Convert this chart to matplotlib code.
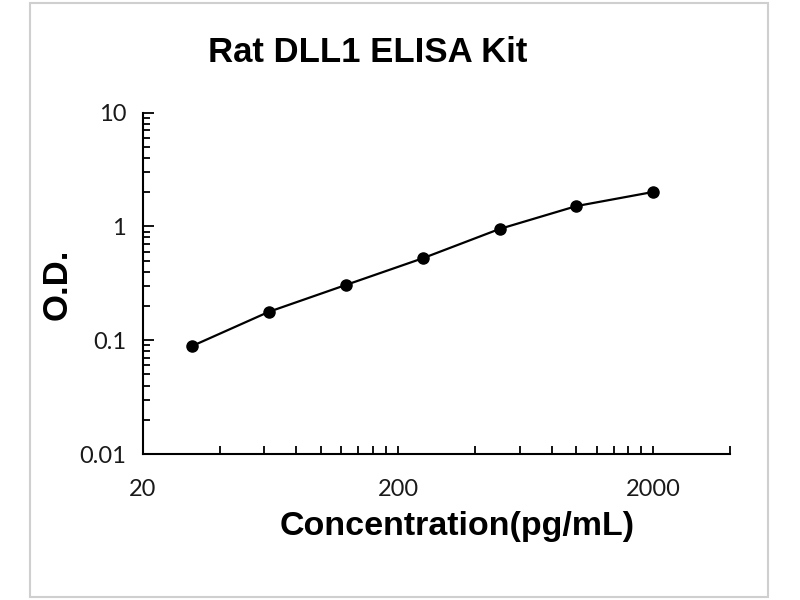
import matplotlib
matplotlib.use("Agg")
import matplotlib.pyplot as plt
from matplotlib.ticker import FixedLocator, NullFormatter, FixedFormatter
from matplotlib.patches import Rectangle

# standard curve
conc = [31.25, 62.5, 125, 250, 500, 1000, 2000]
od = [0.089, 0.178, 0.306, 0.525, 0.95, 1.51, 2.01]

x_major = [20, 200, 2000]
x_labels = ["20", "200", "2000"]
y_major = [0.01, 0.1, 1, 10]
y_labels = ["0.01", "0.1", "1", "10"]

title = "Rat DLL1 ELISA Kit"
xlabel = "Concentration(pg/mL)"
ylabel = "O.D."

tick_font = "Lato"
bold_font = ["Liberation Sans", "DejaVu Sans"]

fig = plt.figure(figsize=(8, 6), dpi=100)
fig.patches.append(Rectangle((30 / 800, 3 / 600), 738 / 800, 594 / 600,
                             transform=fig.transFigure, fill=False,
                             edgecolor="#cfcfcf", linewidth=1.5))

ax = fig.add_axes([0.1784, 0.2433, 0.7341, 0.5689])
ax.plot(conc, od, color="black", linewidth=1.6, marker="o", markersize=8)

ax.set_xscale("log")
ax.set_yscale("log")
ax.set_xlim(20, 4000)
ax.set_ylim(0.01, 10)

x_minor = [m * k for m in (20, 200, 2000) for k in range(2, 10) if m * k <= 4000]
ax.xaxis.set_major_locator(FixedLocator(x_major))
ax.xaxis.set_major_formatter(FixedFormatter(x_labels))
ax.xaxis.set_minor_locator(FixedLocator(x_minor))
ax.xaxis.set_minor_formatter(NullFormatter())

y_minor = [m * k for m in (0.01, 0.1, 1) for k in range(2, 10)]
ax.yaxis.set_major_locator(FixedLocator(y_major))
ax.yaxis.set_major_formatter(FixedFormatter(y_labels))
ax.yaxis.set_minor_locator(FixedLocator(y_minor))
ax.yaxis.set_minor_formatter(NullFormatter())

for s in ("top", "right"):
    ax.spines[s].set_visible(False)
for s in ("left", "bottom"):
    ax.spines[s].set_linewidth(1.5)

ax.tick_params(axis="x", which="both", direction="in", length=6, width=1.3,
               pad=18, labelsize=17)
ax.tick_params(axis="y", which="major", direction="in", length=8, width=1.3,
               pad=12, labelsize=17)
ax.tick_params(axis="y", which="minor", direction="in", length=5, width=1.3)
for lab in ax.get_xticklabels() + ax.get_yticklabels():
    lab.set_fontfamily(tick_font)
    lab.set_color("#1a1a1a")

fig.text(368 / 800, 1 - 52 / 600, title, ha="center", va="center",
         fontsize=25, fontweight="bold", family=bold_font)
fig.text(457 / 800, 1 - 527 / 600, xlabel, ha="center", va="center",
         fontsize=24.5, fontweight="bold", family=bold_font)
fig.text(57 / 800, 1 - 284 / 600, ylabel, ha="center", va="center",
         rotation=90, fontsize=25, fontweight="bold", family=bold_font)

fig.savefig("out.png", dpi=100)
